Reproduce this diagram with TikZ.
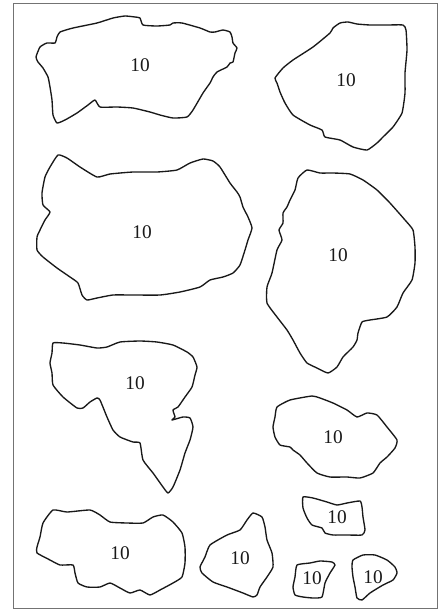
\documentclass[tikz,border=0pt]{standalone}
\usepackage{fontspec}
\setmainfont{Liberation Serif}
\usetikzlibrary{positioning}

\begin{document}
\begin{tikzpicture}[
    x=0.3mm, y=-0.3mm, font=\fontsize{16.5}{18}\selectfont,
    frame/.style={draw=black!55, line width=0.8pt},
    stone/.style={draw=black!90, line width=1.15pt, line join=round},
    tag/.style={inner sep=1pt, text=black!90}
]
\useasboundingbox (0,0) rectangle (445,611);
\draw[frame] (13,3) rectangle (437,608);
% top row
\draw[stone] plot[smooth cycle, tension=0.3] coordinates {
  (36,57) (40,47) (47,43) (55,43) (57,37) (60,32) (73,28) (97,23) (113,18)
  (125,16) (135,17) (140,18) (143,25) (157,26) (170,25) (173,23) (182,23)
  (200,28) (210,32) (215,32) (223,30) (230,32) (232,37) (233,43) (237,48)
  (235,53) (233,62) (230,63) (227,67) (217,72) (213,77) (210,83) (203,93)
  (193,110) (187,117) (173,118) (160,115) (150,112) (133,108) (117,107)
  (100,107) (95,100) (88,105) (77,113) (65,120) (57,123) (53,115) (52,100)
  (50,87) (48,77) (43,68) (38,62)};
\node[tag] (s1) at (140,65) {10};
\draw[stone] plot[smooth cycle, tension=0.3] coordinates {
  (275,78) (283,68) (293,60) (313,47) (330,33) (333,28) (340,23) (348,22)
  (357,24) (370,25) (387,25) (403,25) (406,30) (407,50) (405,73) (405,93)
  (402,113) (393,127) (383,137) (377,143) (367,150) (353,147) (340,140)
  (325,137) (322,130) (310,125) (293,115) (285,103) (280,92) (277,83)};
\node[tag] (s2) at (346,80) {10};
% second row
\draw[stone] plot[smooth cycle, tension=0.3] coordinates {
  (58,155) (67,158) (80,167) (97,177) (110,174) (133,172) (157,172)
  (177,170) (190,163) (203,159) (213,161) (220,167) (230,183) (237,192)
  (240,197) (243,207) (248,217) (252,228) (248,240) (245,250) (240,265)
  (233,273) (223,277) (210,280) (200,287) (180,292) (160,295) (133,295)
  (113,295) (97,298) (87,300) (82,295) (78,283) (70,277) (57,268) (43,257)
  (37,250) (37,237) (40,230) (45,220) (50,212) (43,205) (42,193) (45,177)
  (50,167)};
\node[tag] (s3) at (142,232) {10};
\draw[stone] plot[smooth cycle, tension=0.3] coordinates {
  (307,170) (320,173) (333,173) (350,174) (363,180) (377,190) (390,203)
  (405,220) (413,230) (415,247) (415,263) (412,280) (403,293) (397,307)
  (387,317) (370,320) (362,322) (358,333) (357,340) (353,347) (343,357)
  (337,367) (328,373) (317,368) (307,363) (300,353) (293,340) (287,330)
  (277,317) (267,303) (267,287) (272,273) (277,250) (282,240) (279,230)
  (283,223) (283,213) (287,207) (290,200) (295,190) (298,178)};
\node[tag] (s4) at (338,255) {10};
% third row
\draw[stone] plot[smooth cycle, tension=0.3] coordinates {
  (53,343) (63,343) (80,345) (97,348) (107,347) (120,342) (140,341)
  (157,342) (173,345) (187,352) (193,357) (197,367) (195,375) (192,387)
  (185,397) (178,407) (173,410) (175,417) (172,420) (183,417) (190,418)
  (193,427) (190,440) (185,453) (180,470) (173,487) (168,493) (163,487)
  (153,473) (143,460) (140,443) (133,442) (120,437) (113,430) (107,417)
  (100,400) (97,398) (90,402) (83,408) (77,408) (63,397) (53,385) (52,373)
  (50,363) (52,353)};
\node[tag] (s5) at (135,383) {10};
\draw[stone] plot[smooth cycle, tension=0.3] coordinates {
  (277,407) (290,400) (312,396) (320,398) (333,403) (347,410) (357,417)
  (367,413) (377,415) (387,427) (397,440) (395,448) (387,457) (380,463)
  (373,473) (360,478) (347,477) (330,477) (317,473) (307,463) (300,455)
  (293,450) (290,447) (280,445) (275,437) (273,427) (275,417)};
\node[tag] (s6) at (333,437) {10};
% bottom row
\draw[stone] plot[smooth cycle, tension=0.3] coordinates {
  (53,510) (67,512) (90,510) (100,515) (110,522) (127,523) (143,523)
  (153,517) (163,515) (173,522) (182,533) (185,547) (185,563) (182,577)
  (173,583) (160,590) (150,595) (140,590) (130,593) (120,588) (110,583)
  (100,587) (87,587) (78,583) (75,573) (73,565) (60,565) (50,560) (37,553)
  (37,547) (40,537) (43,523)};
\node[tag] (s7) at (120,553) {10};
\draw[stone] plot[smooth cycle, tension=0.3] coordinates {
  (253,513) (262,517) (265,527) (267,540) (272,553) (273,567) (267,577)
  (260,587) (257,595) (253,597) (243,593) (227,587) (213,582) (202,573)
  (200,567) (205,557) (210,545) (227,535) (240,530) (247,520)};
\node[tag] (s8) at (240,558) {10};
\draw[stone] plot[smooth cycle, tension=0.3] coordinates {
  (303,497) (313,498) (327,502) (337,505) (347,503) (360,501) (362,507)
  (363,517) (365,530) (362,535) (347,535) (333,535) (325,533) (322,528)
  (312,525) (307,518) (303,508)};
\node[tag] (s9) at (337,517) {10};
\draw[stone] plot[smooth cycle, tension=0.3] coordinates {
  (297,565) (310,563) (320,561) (332,562) (335,565) (330,573) (325,583)
  (322,597) (313,598) (303,597) (295,595) (293,587) (295,577)};
\node[tag] (s10) at (312,578) {10};
\draw[stone] plot[smooth cycle, tension=0.3] coordinates {
  (353,560) (363,555) (375,555) (387,560) (395,567) (397,573) (393,580)
  (383,585) (370,593) (362,600) (357,598) (355,587) (353,577) (352,567)};
\node[tag] (s11) at (373,577) {10};
\end{tikzpicture}
\end{document}
